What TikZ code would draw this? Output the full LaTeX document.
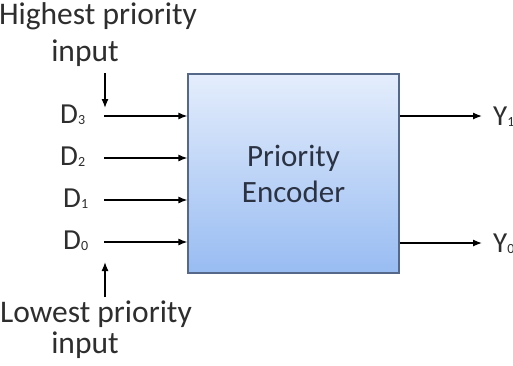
\documentclass[tikz,border=0pt]{standalone}
\usepackage{fontspec}
\setmainfont{Carlito}
\usetikzlibrary{arrows.meta}
\definecolor{labelgray}{HTML}{2E2E2E}
\definecolor{boxtop}{HTML}{E4EDFC}
\definecolor{boxbot}{HTML}{98BCF2}
\definecolor{boxedge}{HTML}{55688A}
\definecolor{boxtext}{HTML}{2B3242}
% small index set just below the baseline of a pin name
\newcommand\pinidx[1]{\raisebox{-1pt}{\fontsize{14}{14}\selectfont #1}}
\tikzset{
  lbl/.style={inner sep=0pt, text=labelgray, font=\fontsize{31.5}{36}\selectfont, anchor=base},
  pin/.style={inner sep=0pt, text=labelgray, font=\fontsize{29}{32}\selectfont, anchor=base west},
  sig/.style={line width=1.3pt, -{Latex[length=9pt,width=7pt]}},
  encbox/.style={draw=boxedge, line width=1.2pt, top color=boxtop, bottom color=boxbot,
    minimum width=211pt, minimum height=199pt, inner sep=0pt, align=center,
    text=boxtext, font=\fontsize{31}{36}\selectfont}
}
\begin{document}
\begin{tikzpicture}[x=1pt,y=-1pt]
\useasboundingbox (0,0) rectangle (513,365);
\fill[white] (0,0) rectangle (513,365);

% encoder block
\node[encbox] (enc) at (293.5,173.5) {Priority\\Encoder};

% priority captions
\node[lbl] (hi1) at (98,24) {Highest priority};
\node[lbl] (hi2) at (85,61) {input};
\node[lbl] (lo1) at (96,322) {Lowest priority};
\node[lbl] (lo2) at (85,353) {input};

% input pin labels
\node[pin] (d3) at (60,123) {D\pinidx{3}};
\node[pin] (d2) at (60,165) {D\pinidx{2}};
\node[pin] (d1) at (63,207) {D\pinidx{1}};
\node[pin] (d0) at (63,249) {D\pinidx{0}};

% output pin labels
\node[pin] (y1) at (493,125) {Y\pinidx{1}};
\node[pin] (y0) at (493,252) {Y\pinidx{0}};

% start points of the input lines
\coordinate (s3) at (104,116);
\coordinate (s2) at (104,158);
\coordinate (s1) at (104,200);
\coordinate (s0) at (104,242);

% end points of the output lines
\coordinate (e1) at (482,116);
\coordinate (e0) at (482,243);

% priority pointers
\coordinate (hiTail) at (105,73);
\coordinate (hiTip) at (105,108);
\coordinate (loTail) at (105,297);
\coordinate (loTip) at (105,262);

\draw[sig] (s3) -- (enc.west |- s3);
\draw[sig] (s2) -- (enc.west |- s2);
\draw[sig] (s1) -- (enc.west |- s1);
\draw[sig] (s0) -- (enc.west |- s0);

\draw[sig] (enc.east |- e1) -- (e1);
\draw[sig] (enc.east |- e0) -- (e0);

\draw[sig] (hiTail) -- (hiTip);
\draw[sig] (loTail) -- (loTip);
\end{tikzpicture}
\end{document}
